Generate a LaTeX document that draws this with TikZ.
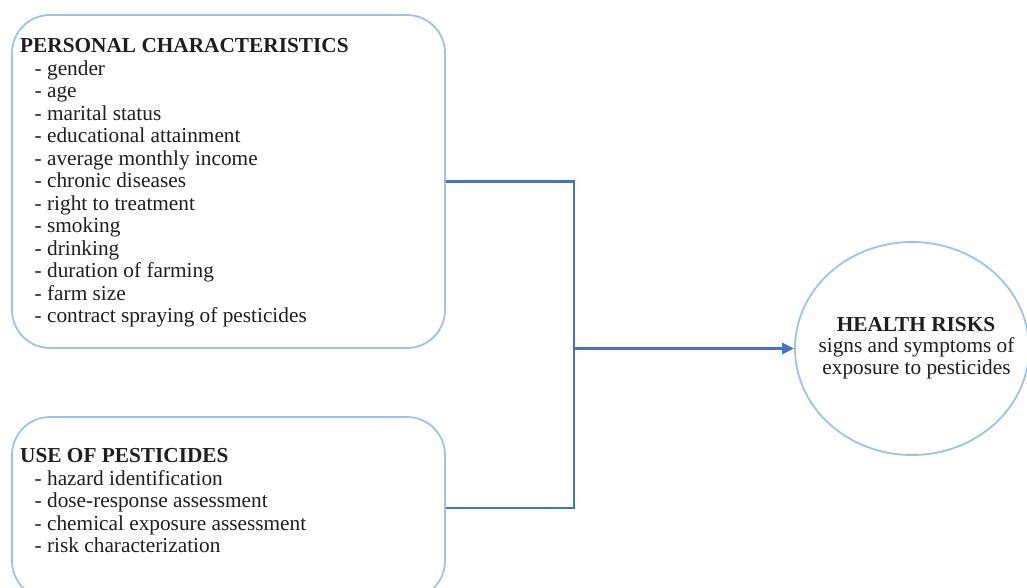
\documentclass[tikz,border=0pt]{standalone}
\usepackage{fontspec}
\setmainfont{Liberation Serif}
\usetikzlibrary{arrows.meta,shapes.geometric}
\definecolor{boxblue}{RGB}{157,195,230}
\definecolor{linkblue}{RGB}{68,114,196}
\definecolor{ink}{RGB}{30,30,30}
\tikzset{
  frame/.style={draw=boxblue, line width=1.8pt, rounded corners=38pt, inner sep=0pt},
  oval/.style={ellipse, draw=boxblue, line width=1.8pt, inner sep=0pt},
  conn/.style={draw=linkblue, line width=2.2pt},
  txt/.style={anchor=base west, inner sep=0pt, text=ink, font=\fontsize{21.3}{22.5}\selectfont},
  hd/.style={txt, font=\fontsize{21.3}{22.5}\selectfont\bfseries},
  ctxt/.style={anchor=base, inner sep=0pt, text=ink, font=\fontsize{21.3}{22}\selectfont},
  chd/.style={ctxt, font=\fontsize{21.3}{22}\selectfont\bfseries}
}
\begin{document}
\begin{tikzpicture}[x=1pt,y=-1pt]
\useasboundingbox (0,0) rectangle (1027,587);
\fill[white] (0,0) rectangle (1027,587);
% boxes
\node[frame, minimum width=433pt, minimum height=333pt] (pc) at (228.5,181.5) {};
\node[frame, minimum width=433pt, minimum height=182pt] (up) at (228.5,508) {};
\node[oval, minimum width=234pt, minimum height=213pt] (hr) at (912,348.5) {};
% box 1 text
\node[hd] (pct) at (20,52.7) {PERSONAL CHARACTERISTICS};
\node[txt] (p1) at (34.5,75.2) {- gender};
\node[txt] (p2) at (34.5,97.7) {- age};
\node[txt] (p3) at (34.5,120.2) {- marital status};
\node[txt] (p4) at (34.5,142.7) {- educational attainment};
\node[txt] (p5) at (34.5,165.2) {- average monthly income};
\node[txt] (p6) at (34.5,187.7) {- chronic diseases};
\node[txt] (p7) at (34.5,210.2) {- right to treatment};
\node[txt] (p8) at (34.5,232.7) {- smoking};
\node[txt] (p9) at (34.5,255.2) {- drinking};
\node[txt] (p10) at (34.5,277.7) {- duration of farming};
\node[txt] (p11) at (34.5,300.2) {- farm size};
\node[txt] (p12) at (34.5,322.7) {- contract spraying of pesticides};
% box 2 text
\node[hd] (upt) at (20,462.7) {USE OF PESTICIDES};
\node[txt] (u1) at (34.5,485.2) {- hazard identification};
\node[txt] (u2) at (34.5,507.7) {- dose-response assessment};
\node[txt] (u3) at (34.5,530.2) {- chemical exposure assessment};
\node[txt] (u4) at (34.5,552.7) {- risk characterization};
% circle text
\node[chd] (hrt) at (916,331) {HEALTH RISKS};
\node[ctxt] (hr1) at (916.5,352.5) {signs and symptoms of};
\node[ctxt] (hr2) at (916.5,374) {exposure to pesticides};
% connectors
\coordinate (j) at (574,348.5);
\draw[conn] (pc.east) -| (j);
\draw[conn] (up.east) -| (j);
\draw[conn, -{Triangle[length=12pt,width=11pt]}] (j) -- (hr.west);
\end{tikzpicture}
\end{document}
